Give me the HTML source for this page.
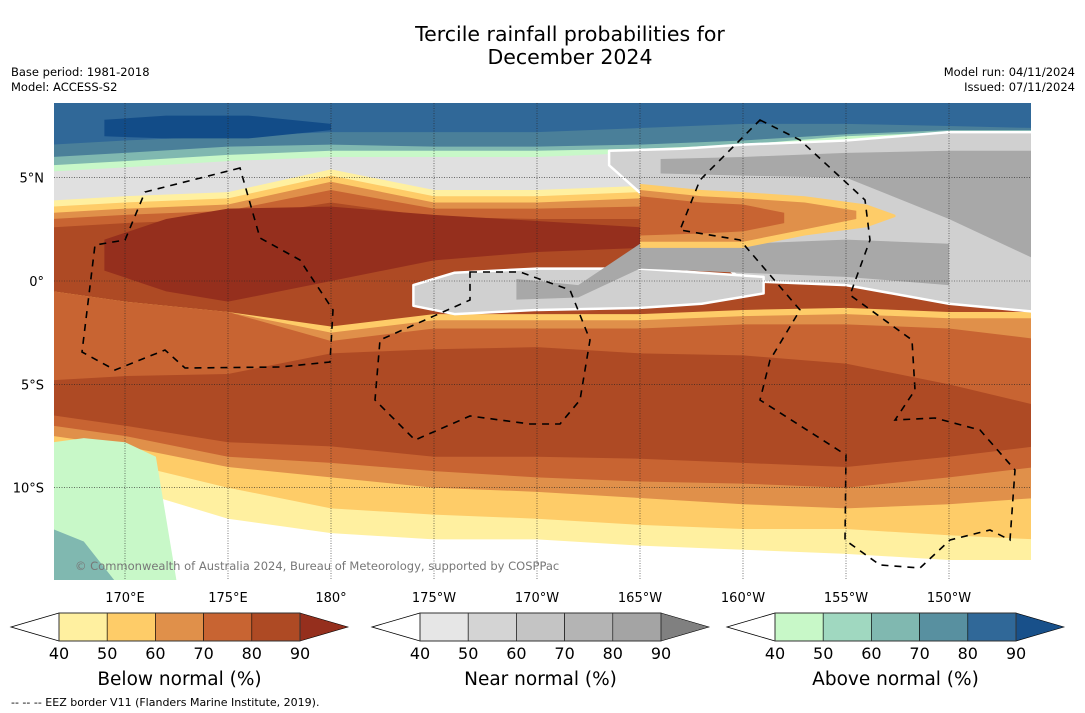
<!DOCTYPE html>
<html><head><meta charset="utf-8"><style>
body{margin:0;background:#fff;width:1085px;height:713px;overflow:hidden;font-family:"DejaVu Sans","Liberation Sans",sans-serif}
svg{position:absolute;left:0;top:0}
</style></head><body>
<svg id="s" width="1085" height="713">
<text x="570" y="41" font-size="20.5" text-anchor="middle">Tercile rainfall probabilities for</text>
<text x="570" y="64" font-size="20.5" text-anchor="middle">December 2024</text>
<text x="11" y="76" font-size="11.5">Base period: 1981-2018</text>
<text x="11" y="91" font-size="11.5">Model: ACCESS-S2</text>
<text x="1075" y="76" font-size="11.5" text-anchor="end">Model run: 04/11/2024</text>
<text x="1075" y="91" font-size="11.5" text-anchor="end">Issued: 07/11/2024</text>
<defs><clipPath id="mc"><rect x="54" y="103" width="977" height="477"/></clipPath></defs>
<g id="map" clip-path="url(#mc)"></g>
<g id="eez" clip-path="url(#mc)" fill="none" stroke="#000" stroke-width="1.6" stroke-dasharray="7,6">
<path d="M240,168 L145,192 L125,240 L95,245 L82,352 L115,370 L165,350 L185,368 L280,367 L330,362 L333,310 L300,260 L260,238 Z"/>
<path d="M470,272 L520,272 L570,290 L590,340 L580,400 L560,424 L530,424 L470,416 L415,440 L375,400 L380,340 L470,300 Z"/>
<path d="M760,120 L800,140 L865,200 L870,240 L850,295 L912,340 L915,390 L895,420 L935,418 L980,430 L1015,470 L1010,540 L990,530 L950,540 L920,568 L880,565 L845,540 L846,455 L760,400 L770,360 L800,310 L740,240 L680,230 L700,180 Z"/>
</g>
<g id="grid"></g>
<text x="75" y="570" font-size="11.5" fill="#777">© Commonwealth of Australia 2024, Bureau of Meteorology, supported by COSPPac</text>
<g id="bars"></g>
<text x="11" y="706" font-size="11">--  --  -- EEZ border V11 (Flanders Marine Institute, 2019).</text>
</svg>
<script>
const lons=[166.5,170,175,180,185,190,195,200,205,210,214.2];
const northBands=[
 ["#306898",[9,9,9,9,9,9,9,9,9,9,9]],
 ["#4a7f99",[6.6,6.8,7.0,7.2,7.2,7.2,7.4,7.6,7.6,7.5,7.4]],
 ["#80b8b0",[6.0,6.2,6.5,6.6,6.5,6.5,6.6,6.8,7.1,7.3,7.3]],
 ["#c8f8c8",[5.6,5.8,6.1,6.3,6.3,6.3,6.4,6.6,7.0,7.2,7.2]],
 ["#e0e0e0",[5.3,5.5,5.8,6.0,6.0,6.0,6.2,6.4,6.8,7.0,7.0]],
 ["#fff0a0",[3.9,4.1,4.3,5.4,4.4,4.4,4.6,4.8,4.5,4.0,4.0]],
 ["#fecc68",[3.6,3.8,4.0,5.1,4.1,4.1,4.3,4.4,4.0,3.5,3.5]],
 ["#e0904a",[3.3,3.5,3.7,4.8,3.8,3.8,4.0,4.0,3.6,3.0,3.0]],
 ["#c86432",[3.0,3.2,3.4,4.4,3.5,3.5,3.6,3.5,3.2,2.5,2.5]],
 ["#ae4a24",[2.6,2.8,3.0,3.8,3.1,3.0,3.0,2.9,2.6,2.0,2.0]]];
const southBands=[
 ["#fecc68",[-0.5,-1.0,-1.5,-2.2,-1.6,-1.6,-1.6,-1.4,-1.3,-1.5,-1.5]],
 ["#e0904a",[-0.5,-1.0,-1.5,-2.5,-1.9,-1.9,-1.9,-1.7,-1.6,-1.8,-1.8]],
 ["#c86432",[-0.5,-1.0,-1.5,-2.9,-2.3,-2.3,-2.3,-2.1,-2.1,-2.3,-2.8]],
 ["#ae4a24",[-4.8,-4.6,-4.5,-3.5,-3.3,-3.2,-3.5,-3.6,-4.0,-5.0,-6.0]],
 ["#c86432",[-6.5,-7.0,-7.8,-8.0,-8.5,-8.5,-8.6,-8.8,-9.0,-8.5,-8.0]],
 ["#e0904a",[-7.0,-7.5,-8.5,-8.8,-9.2,-9.5,-9.7,-9.8,-10.0,-9.5,-9.0]],
 ["#fecc68",[-7.5,-8.0,-9.0,-9.5,-10.0,-10.2,-10.5,-10.8,-11.0,-10.8,-10.5]],
 ["#fff0a0",[-8.0,-8.8,-10.0,-11.0,-11.3,-11.5,-11.8,-12.0,-12.0,-12.3,-12.5]],
 ["#ffffff",[-9.0,-10.0,-11.5,-12.2,-12.5,-12.5,-12.8,-13.0,-13.2,-13.5,-13.5]]];
const blobs=[
 ["#952f1d",[169,172,175,180,185,190,195,198],[2.0,3.0,3.5,3.6,3.2,2.9,2.6,2.2],[0.5,-0.5,-1.0,0.0,1.0,1.4,1.6,1.6],"none"],
 ["#d0d0d0",[193.5,197,200,205,210,214.3],[6.3,6.4,6.6,6.8,7.2,7.2],[5.6,2.5,0.0,-0.2,-1.1,-1.5],"#fff"],
 ["#a8a8a8",[196,200,205,210,214.3],[5.9,6.0,6.2,6.3,6.3],[5.2,5.1,5.0,3.0,1.0],"none"],
 ["#d0d0d0",[184,186,190,195,198,201],[-0.2,0.4,0.6,0.6,0.4,0.2],[-1.2,-1.6,-1.4,-1.3,-1.1,-0.6],"#fff"],
 ["#a8a8a8",[189,192,195,200,205,210],[0.1,-0.2,1.8,1.8,2.0,1.8],[-0.9,-0.8,0.6,0.4,0.2,-0.2],"none"],
 ["#fecc68",[195,198,200,203,206,207.4],[4.7,4.4,4.3,4.1,3.7,3.2],[1.6,1.6,1.6,2.2,2.6,3.1],"none"],
 ["#e0904a",[195,198,200,203,205.5],[4.4,4.1,4.0,3.8,3.4],[1.9,1.9,1.9,2.5,3.0],"none"],
 ["#c86432",[195,198,200,202],[4.1,3.8,3.7,3.3],[2.2,2.3,2.4,2.8],"none"],
 ["#124c88",[169,172,176,180],[7.8,8.0,8.0,7.6],[7.0,6.9,6.9,7.3],"none"],
 ["#c8f8c8",[166.5,168,170,171.5,172.5],[-7.8,-7.6,-7.8,-8.5,-14.5],[-14.5,-14.5,-14.5,-14.5,-14.5],"none"],
 ["#80b8b0",[166.5,168,169.5],[-12.0,-12.6,-14.5],[-14.5,-14.5,-14.5],"none"]];
const latTicks=[5,0,-5,-10], latLabels=["5°N","0°","5°S","10°S"];
const lonTicks=[170,175,180,185,190,195,200,205,210];
const lonLabels=["170°E","175°E","180°","175°W","170°W","165°W","160°W","155°W","150°W"];
const belowColors=["#fff0a0","#fecc68","#e0904a","#c86432","#ae4a24"], belowExt="#952f1d";
const nearColors=["#e6e6e6","#d4d4d4","#c4c4c4","#b4b4b4","#a4a4a4"], nearExt="#808080";
const aboveColors=["#c8f8c8","#a0d8c0","#80b8b0","#5890a0","#306898"], aboveExt="#18508a";
const cbTicks=[40,50,60,70,80,90];
const NS="http://www.w3.org/2000/svg";
const X=l=>125+(l-170)*20.6, Y=a=>281-a*20.67;
function mk(t,at,p){const e=document.createElementNS(NS,t);for(const k in at)e.setAttribute(k,at[k]);p.appendChild(e);return e;}
const map=document.getElementById('map');
function band(c,tops,i){let d="M"+X(lons[0])+","+Y(tops[0]);for(let k=1;k<lons.length;k++)d+=" L"+X(lons[k])+","+Y(tops[k]);d+=" L1040,600 L40,600 Z";
 const p=mk('path',{d:d,fill:c},map);
 
 }
northBands.forEach((b,i)=>band(b[0],b[1],'n'+i));
southBands.forEach((b,i)=>band(b[0],b[1],'s'+i));
blobs.forEach((b,i)=>{const [c,ls,t,bt,st]=b;let d="M"+X(ls[0])+","+Y(t[0]);for(let k=1;k<ls.length;k++)d+=" L"+X(ls[k])+","+Y(t[k]);for(let k=ls.length-1;k>=0;k--)d+=" L"+X(ls[k])+","+Y(bt[k]);d+=" Z";
 const p=mk('path',{d:d,fill:c,stroke:st,'stroke-width':st=="none"?0:2.5,'stroke-linejoin':'round'},map);
 
 });
const g=document.getElementById('grid');
latTicks.forEach((v,i)=>{mk('line',{x1:54,x2:1031,y1:Y(v),y2:Y(v),stroke:'#222','stroke-width':0.6,'stroke-dasharray':'1,1.5'},g);
 const t=mk('text',{x:44,y:Y(v)+5,'font-size':13,'text-anchor':'end'},g);t.textContent=latLabels[i];
 
 });
lonTicks.forEach((v,i)=>{mk('line',{x1:X(v),x2:X(v),y1:103,y2:580,stroke:'#222','stroke-width':0.6,'stroke-dasharray':'1,1.5'},g);
 const t=mk('text',{x:X(v),y:602,'font-size':13,'text-anchor':'middle'},g);t.textContent=lonLabels[i];
 
 });
const bars=document.getElementById('bars');
function cbar(x0,cols,ext,label,name){const w=48.2,y0=613,h=28;
 mk('polygon',{points:`${x0},${y0} ${x0-48},${y0+h/2} ${x0},${y0+h}`,fill:'#fff',stroke:'#000','stroke-width':0.8},bars);
 cols.forEach((c,i)=>{const r=mk('rect',{x:x0+i*w,y:y0,width:w,height:h,fill:c,stroke:'#000','stroke-width':0.6},bars);
  
  });
 const xe=x0+5*w;mk('polygon',{points:`${xe},${y0} ${xe+48},${y0+h/2} ${xe},${y0+h}`,fill:ext,stroke:'#000','stroke-width':0.6},bars);
 mk('rect',{x:x0,y:y0,width:5*w,height:h,fill:'none',stroke:'#333','stroke-width':1},bars);
 cbTicks.forEach((v,i)=>{const t=mk('text',{x:x0+i*w,y:659,'font-size':16,'text-anchor':'middle'},bars);t.textContent=v;
  
  });
 const t=mk('text',{x:x0+2.5*w,y:685,'font-size':18.5,'text-anchor':'middle'},bars);t.textContent=label;
 
 }
cbar(59,belowColors,belowExt,"Below normal (%)","below-colorbar");
cbar(420,nearColors,nearExt,"Near normal (%)","near-colorbar");
cbar(775,aboveColors,aboveExt,"Above normal (%)","above-colorbar");
</script>
</body></html>
